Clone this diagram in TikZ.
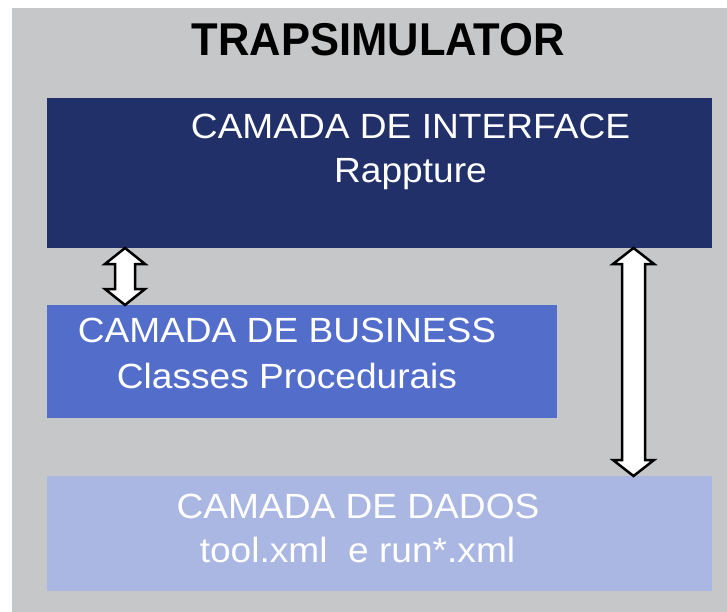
\documentclass[tikz,border=0pt]{standalone}
\usepackage{fontspec}
\setmainfont{Liberation Sans}
\usetikzlibrary{calc}

\definecolor{panelgray}{HTML}{C6C7C9}
\definecolor{ifaceblue}{HTML}{223069}
\definecolor{busblue}{HTML}{536DCA}
\definecolor{datablue}{HTML}{AAB7E3}

% double-headed block arrow: #1 top tip, #2 bottom tip,
% #3 half head width, #4 half shaft width, #5 head length
\newcommand\blockdblarrow[5]{%
  \draw[arrowbody] (#1) -- ++(#3,#5) -- ++(-#3+#4,0)
    -- ($(#2)+(#4,-#5)$) -- ++(#3-#4,0) -- (#2)
    -- ++(-#3,-#5) -- ++(#3-#4,0)
    -- ($(#1)+(-#4,#5)$) -- ++(-#3+#4,0) -- cycle;}

\tikzset{
  layer/.style={draw=none, inner sep=0pt, outer sep=0pt, anchor=north west},
  lbl/.style={text=white, inner sep=0pt, anchor=base,
              font=\fontsize{35}{42}\selectfont},
  titlelbl/.style={text=black, inner sep=0pt, anchor=base,
              font=\fontsize{46}{54}\selectfont\bfseries},
  arrowbody/.style={fill=white, draw=black, line width=2.5pt, line join=miter},
}

\begin{document}
\begin{tikzpicture}[x=1pt, y=-1pt]
  \useasboundingbox (0,0) rectangle (727,612);
  \fill[white] (0,0) rectangle (727,612);
  \fill[panelgray] (12,8) rectangle (727,612);

  % title
  \node[titlelbl] (title) at (378.5,56) {\scalebox{0.946}[1]{TRAPSIMULATOR}};

  % layers
  \node[layer, fill=ifaceblue, minimum width=665, minimum height=150] (iface) at (47,98) {};
  \node[layer, fill=busblue, minimum width=510, minimum height=113] (bus) at (47,305) {};
  \node[layer, fill=datablue, minimum width=665, minimum height=115] (data) at (47,476) {};

  % layer texts
  \node[lbl] (ifaceA) at (410.5,139) {\scalebox{1.06}[1]{CAMADA DE INTERFACE}};
  \node[lbl] (ifaceB) at (410.5,183) {\scalebox{1.06}[1]{Rappture}};
  \node[lbl] (busA) at (287,342) {\scalebox{1.06}[1]{CAMADA DE BUSINESS}};
  \node[lbl] (busB) at (287,388) {\scalebox{1.06}[1]{Classes Procedurais}};
  \node[lbl] (dataA) at (358,518) {\scalebox{1.06}[1]{CAMADA DE DADOS}};
  \node[lbl] (dataB) at (357.5,562) {\scalebox{1.06}[1]{tool.xml\ \ e run*.xml}};

  % arrow end points on the layer edges
  \path (125,0) coordinate (xa) (633.5,0) coordinate (xb);
  \coordinate (a1top) at (iface.south -| xa);
  \coordinate (a1bot) at (bus.north -| xa);
  \coordinate (a2top) at (iface.south -| xb);
  \coordinate (a2bot) at (data.north -| xb);

  \blockdblarrow{a1top}{a1bot}{20}{10}{16}
  \blockdblarrow{a2top}{a2bot}{20.5}{11.5}{16}
\end{tikzpicture}
\end{document}
